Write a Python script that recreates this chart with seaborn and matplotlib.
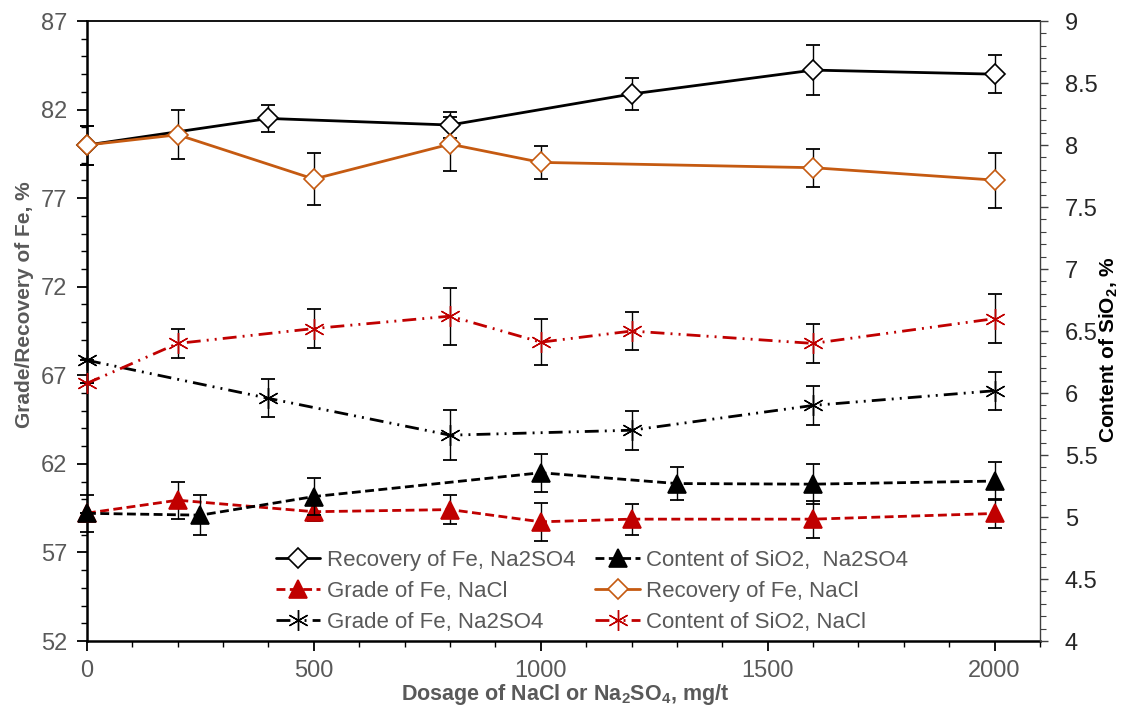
import numpy as np
import pandas as pd
import matplotlib
matplotlib.use("Agg")
import matplotlib.pyplot as plt
import seaborn as sns
from matplotlib.ticker import MultipleLocator, FuncFormatter, FixedLocator

# ---------------- data ----------------
x_rec_na2so4 = [0, 400, 800, 1200, 1600, 2000]
rec_na2so4 = [80.0, 81.5, 81.13, 82.88, 84.23, 84.0]
rec_na2so4_err = [1.1, 0.75, 0.73, 0.9, 1.43, 1.08]

x_rec_nacl = [0, 200, 500, 800, 1000, 1600, 2000]
rec_nacl = [80.0, 80.58, 78.08, 80.05, 79.02, 78.72, 78.02]
rec_nacl_err = [1.1, 1.37, 1.45, 1.52, 0.95, 1.08, 1.55]

x_grade_nacl = [0, 200, 500, 800, 1000, 1200, 1600, 2000]
grade_nacl = [59.22, 59.95, 59.3, 59.42, 58.73, 58.88, 58.88, 59.2]
grade_nacl_err = [1.05, 1.05, 0.5, 0.82, 1.08, 0.88, 1.05, 0.8]

x_grade_na2so4 = [0, 400, 800, 1200, 1600, 2000]
grade_na2so4 = [67.85, 65.7, 63.62, 63.9, 65.3, 66.13]
grade_na2so4_err = [0.0, 1.07, 1.4, 1.1, 1.08, 1.08]

x_sio2_na2so4 = [0, 250, 500, 1000, 1300, 1600, 2000]
sio2_na2so4 = [5.03, 5.015, 5.165, 5.357, 5.27, 5.265, 5.29]
sio2_na2so4_err = [0.0, 0.16, 0.15, 0.155, 0.13, 0.16, 0.155]

x_sio2_nacl = [0, 200, 500, 800, 1000, 1200, 1600, 2000]
sio2_nacl = [6.078, 6.40, 6.52, 6.62, 6.41, 6.50, 6.40, 6.60]
sio2_nacl_err = [0.0, 0.115, 0.155, 0.23, 0.185, 0.155, 0.155, 0.2]

left_ticks = [52, 57, 62, 67, 72, 77, 82, 87]

labels = ["Recovery of Fe, Na2SO4", "Grade of Fe, NaCl", "Grade of Fe, Na2SO4",
          "Content of SiO2,  Na2SO4", "Recovery of Fe, NaCl", "Content of SiO2, NaCl"]

# ---------------- style ----------------
sns.set_theme(style="ticks")
plt.rcParams["font.family"] = ["Liberation Sans", "DejaVu Sans"]
plt.rcParams["mathtext.fontset"] = "custom"
plt.rcParams["mathtext.rm"] = "Liberation Sans"
plt.rcParams["mathtext.bf"] = "Liberation Sans:bold"

GRAY = "#595959"
ORANGE = "#C55A11"
RED = "#C00000"

fig = plt.figure(figsize=(11.22, 7.08), dpi=100)
ax = fig.add_axes([0.0775, 0.0946, 0.8494, 0.8757])
ax2 = ax.twinx()

DASH = (0, (3.2, 1.6))
DDOT = (0, (5, 2.2, 0.7, 2.2, 0.7, 2.2))
AST = (6, 2, 0)


def draw(axis, x, y, err, color, marker, ms, mfc, ls, label, mew=1.2):
    df = pd.DataFrame({"x": x, "y": y})
    axis.errorbar(x, y, yerr=err, fmt="none", ecolor="black", elinewidth=1.0,
                  capsize=5, capthick=1.3, zorder=2, clip_on=False)
    sns.lineplot(data=df, x="x", y="y", ax=axis, color=color, marker=marker,
                 markersize=ms, markerfacecolor=mfc, markeredgecolor=color,
                 markeredgewidth=mew, linewidth=2.0, legend=False, zorder=3,
                 clip_on=False)
    line = axis.lines[-1]
    line.set_linestyle(ls)
    line.set_label(label)
    return line


h1 = draw(ax, x_rec_na2so4, rec_na2so4, rec_na2so4_err, "black", "D", 10, "white", "-", labels[0])
h5 = draw(ax, x_rec_nacl, rec_nacl, rec_nacl_err, ORANGE, "D", 10, "white", "-", labels[4])
h2 = draw(ax, x_grade_nacl, grade_nacl, grade_nacl_err, RED, "^", 13, RED, DASH, labels[1])
h3 = draw(ax, x_grade_na2so4, grade_na2so4, grade_na2so4_err, "black", AST, 15, "none", DDOT, labels[2], mew=1.0)
h4 = draw(ax2, x_sio2_na2so4, sio2_na2so4, sio2_na2so4_err, "black", "^", 13, "black", DASH, labels[3])
h6 = draw(ax2, x_sio2_nacl, sio2_nacl, sio2_nacl_err, RED, AST, 15, "none", DDOT, labels[5], mew=1.0)

# ---------------- axes ----------------
ax.set_xlim(0, 2100)
ax.set_ylim(52, 87)
ax2.set_ylim(4, 9)

ax.xaxis.set_major_locator(MultipleLocator(500))
ax.xaxis.set_minor_locator(MultipleLocator(100))
ax.yaxis.set_major_locator(FixedLocator(left_ticks))
ax.yaxis.set_minor_locator(MultipleLocator(1))
ax2.yaxis.set_major_locator(MultipleLocator(0.5))
ax2.yaxis.set_minor_locator(MultipleLocator(0.1))
ax2.yaxis.set_major_formatter(FuncFormatter(lambda v, _: f"{v:g}"))

ax.tick_params(axis="both", which="major", direction="out", length=7, width=1.3,
               labelsize=17, labelcolor=GRAY, color="black")
ax.tick_params(axis="both", which="minor", direction="out", length=4, width=1.0, color="black")
ax.tick_params(axis="y", which="major", pad=7)
ax.tick_params(axis="x", which="major", pad=7)
ax2.tick_params(axis="y", which="major", direction="out", length=6, width=1.0,
                labelsize=17, labelcolor="#262626", color="#404040", pad=12)
ax2.tick_params(axis="y", which="minor", direction="out", length=4, width=0.8, color="#404040")

for s in ["left", "bottom"]:
    ax.spines[s].set_linewidth(1.8)
    ax.spines[s].set_color("black")
ax.spines["top"].set_linewidth(1.3)
ax.spines["top"].set_color("black")
ax.spines["right"].set_visible(False)
ax2.spines["right"].set_linewidth(1.0)
ax2.spines["right"].set_color("#404040")
for s in ["left", "bottom", "top"]:
    ax2.spines[s].set_visible(False)

ax.set_xlabel(r"Dosage of NaCl or Na$_\mathbf{2}$SO$_\mathbf{4}$, mg/t",
              fontsize=15.5, fontweight="bold", color=GRAY)
ax.xaxis.set_label_coords(0.502, -0.066)
ax.set_ylabel("Grade/Recovery of Fe, %", fontsize=15, fontweight="bold", color=GRAY)
ax.yaxis.set_label_coords(-0.056, 0.543)
ax2.set_ylabel(r"Content of SiO$_\mathbf{2}$, %", fontsize=15, fontweight="bold", color="black")
ax2.yaxis.set_label_coords(1.060, 0.47)

handles = [h1, h2, h3, h4, h5, h6]
leg = ax2.legend(handles=handles, labels=labels, ncol=2, loc="center",
                 bbox_to_anchor=(0.530, 0.080), frameon=False, fontsize=16,
                 handlelength=2.0, handletextpad=0.3, columnspacing=0.9,
                 labelspacing=0.45, borderpad=0.0)
for t in leg.get_texts():
    t.set_color(GRAY)

fig.savefig("out.png", dpi=100)
